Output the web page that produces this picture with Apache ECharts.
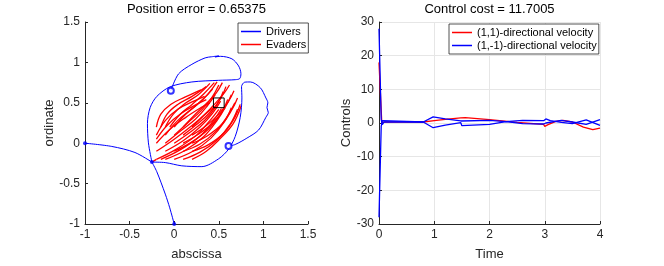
<!DOCTYPE html>
<html>
<head>
<meta charset="utf-8">
<script src="https://cdn.jsdelivr.net/npm/echarts@6/dist/echarts.min.js"></script>
<style>html,body{margin:0;padding:0;background:#fff}#c{width:664px;height:266px}</style>
</head>
<body>
<div id="c"></div>
<script>
// ---------- data: left panel ----------
const leftTitle = 'Position error = 0.65375';
const rightTitle = 'Control cost = 11.7005';
const posTicks = [-1, -0.5, 0, 0.5, 1, 1.5];
const ctrlTicks = [-30, -20, -10, 0, 10, 20, 30];
const timeTicks = [0, 1, 2, 3, 4];

const driver1 = [[-1,0],[-0.7,-0.04],[-0.44,-0.115],[-0.25,-0.234],[-0.289,0.004],[-0.3,0.242],[-0.27,0.44],[-0.195,0.579],[-0.046,0.698],[0.198,0.758],[0.497,0.778],[0.684,0.786],[0.735,0.80],[0.748,0.86],[0.722,0.956],[0.647,1.044],[0.52,1.075],[0.46,1.068],[0.5,1.08],[0.42,1.07],[0.347,1.056],[0.198,0.976],[0.048,0.857],[-0.038,0.65]];
const driver2 = [[0,-1],[-0.05,-0.8],[-0.10,-0.63],[-0.195,-0.353],[-0.25,-0.234],[-0.10,-0.24],[0.085,-0.28],[0.31,-0.29],[0.497,-0.194],[0.609,-0.075],[0.684,0.083],[0.74,0.32],[0.759,0.56],[0.755,0.70],[0.79,0.755],[0.853,0.758],[0.965,0.687],[1.028,0.56],[1.05,0.5],[1.04,0.44],[1.055,0.38],[1.028,0.321],[0.946,0.163],[0.815,0.063],[0.684,-0.016],[0.609,-0.036]];
const driverStarts = [[-1,0],[0,-1],[-0.25,-0.234]];
const driverEnds = [[-0.038,0.65],[0.609,-0.036]];
const targetBox = [[0.44,0.44],[0.56,0.44],[0.56,0.56],[0.44,0.56],[0.44,0.44]];

const evaders = [
  [[-0.2,0.2],[-0.15,0.36],[-0.04,0.48],[0.12,0.57],[0.3,0.66]],
  [[-0.15,0.2],[-0.08,0.36],[0.04,0.48],[0.2,0.58],[0.36,0.7]],
  [[-0.1,0.2],[-0.01,0.36],[0.12,0.49],[0.27,0.6],[0.4,0.74]],
  [[-0.05,0.2],[0.06,0.35],[0.2,0.48],[0.33,0.61],[0.45,0.75]],
  [[0,0.2],[0.12,0.35],[0.26,0.48],[0.38,0.61],[0.48,0.76]],
  [[0.1,0.2],[0.22,0.34],[0.35,0.48],[0.47,0.62],[0.54,0.75]],
  [[0.2,0.2],[0.32,0.33],[0.45,0.48],[0.56,0.62],[0.62,0.72]],
  [[-0.2,0.1],[-0.1,0.28],[0.04,0.42],[0.22,0.52],[0.34,0.58]],
  [[-0.1,0.1],[0.03,0.27],[0.18,0.41],[0.32,0.54],[0.43,0.67]],
  [[0,0.1],[0.15,0.25],[0.3,0.4],[0.42,0.56],[0.5,0.72]],
  [[0.1,0.1],[0.25,0.23],[0.4,0.38],[0.52,0.55],[0.58,0.7]],
  [[0.2,0.1],[0.35,0.21],[0.5,0.36],[0.61,0.52],[0.67,0.65]],
  [[-0.2,0.05],[-0.08,0.22],[0.08,0.37],[0.25,0.48],[0.36,0.54]],
  [[-0.2,0],[-0.05,0.17],[0.13,0.32],[0.3,0.44],[0.4,0.5]],
  [[-0.1,0],[0.07,0.15],[0.24,0.3],[0.37,0.46],[0.46,0.6]],
  [[0,0],[0.17,0.13],[0.34,0.28],[0.47,0.46],[0.55,0.64]],
  [[0.1,0],[0.27,0.11],[0.44,0.26],[0.57,0.44],[0.64,0.6]],
  [[0.2,0],[0.37,0.09],[0.54,0.24],[0.65,0.42],[0.71,0.56]],
  [[-0.2,-0.1],[0,0.05],[0.2,0.22],[0.35,0.36],[0.45,0.45]],
  [[-0.1,-0.1],[0.1,0.03],[0.29,0.2],[0.43,0.37],[0.52,0.52]],
  [[0,-0.1],[0.19,0.01],[0.38,0.17],[0.52,0.36],[0.6,0.54]],
  [[0.1,-0.1],[0.29,-0.01],[0.47,0.15],[0.6,0.34],[0.68,0.5]],
  [[0.2,-0.1],[0.38,-0.02],[0.56,0.13],[0.68,0.32],[0.74,0.48]],
  [[-0.2,-0.2],[0.03,-0.07],[0.25,0.1],[0.4,0.28],[0.5,0.42]],
  [[-0.15,-0.2],[0.07,-0.08],[0.29,0.09],[0.44,0.28],[0.53,0.43]],
  [[-0.1,-0.2],[0.12,-0.09],[0.33,0.08],[0.48,0.28],[0.57,0.44]],
  [[0,-0.2],[0.21,-0.1],[0.41,0.06],[0.56,0.26],[0.64,0.44]],
  [[0.1,-0.2],[0.29,-0.11],[0.48,0.04],[0.63,0.24],[0.71,0.42]],
  [[0.2,-0.2],[0.36,-0.1],[0.5,0.04],[0.66,0.24],[0.75,0.46]],
  [[-0.25,-0.234],[-0.2,-0.2]]
];

// ---------- data: right panel ----------
const vel11 = [[0,18],[0.05,0.2],[0.08,0.5],[0.12,0.3],[0.8,0.3],[1.0,0.7],[1.2,1.1],[1.48,1.5],[1.5,2.0],[1.56,1.6],[2.0,1.0],[2.5,0.2],[2.98,-0.4],[3.0,-1.0],[3.06,-0.5],[3.2,0.5],[3.33,0.8],[3.5,0.3],[3.7,-1.2],[3.87,-2.0],[4.0,-1.5]];
const velA = [[0,28],[0.04,1],[0.06,-0.5],[0.09,0.3],[0.8,0.3],[0.98,1.8],[1.2,1.2],[1.48,0.6],[1.5,1.1],[2.0,0.8],[2.3,0.4],[2.6,0.8],[2.98,0.7],[3.02,1.2],[3.1,0.7],[3.3,0.2],[3.5,-0.2],[3.75,0.9],[4.0,-0.7]];
const velB = [[0,-28],[0.04,-1],[0.06,0.7],[0.09,0.3],[0.8,0.3],[0.98,-1.4],[1.2,-0.6],[1.48,0.1],[1.5,-0.8],[2.0,-0.4],[2.3,0.4],[2.6,-0.2],[2.98,-0.3],[3.02,0.0],[3.3,0.8],[3.5,0.3],[3.75,-0.4],[4.0,1.0]];

const BLUE = '#0000ff', RED = '#ff0000', AX = '#262626';
const font = '"Liberation Sans", Arial, Helvetica, sans-serif';

function valAxis(opts) {
  return Object.assign({
    type: 'value',
    axisLine: { show: true, onZero: false, lineStyle: { color: AX, width: 1 } },
    axisTick: { show: true, inside: true, length: 3, lineStyle: { color: AX } },
    axisLabel: { color: AX, fontSize: 12, fontFamily: font, margin: 5 },
    splitLine: { show: false },
    nameLocation: 'middle',
    nameTextStyle: { color: AX, fontSize: 13, fontFamily: font }
  }, opts);
}

const series = [];
series.push({ name: 'Drivers', type: 'line', xAxisIndex: 0, yAxisIndex: 0, data: driver1, smooth: 0.3, symbol: 'none', lineStyle: { color: BLUE, width: 1 }, itemStyle: { color: BLUE }, z: 3 });
series.push({ name: 'Drivers', type: 'line', xAxisIndex: 0, yAxisIndex: 0, data: driver2, smooth: 0.3, symbol: 'none', lineStyle: { color: BLUE, width: 1 }, itemStyle: { color: BLUE }, z: 3 });
evaders.forEach(tr => series.push({ name: 'Evaders', type: 'line', xAxisIndex: 0, yAxisIndex: 0, data: tr, smooth: 0.4, symbol: 'none', lineStyle: { color: RED, width: 1.3 }, itemStyle: { color: RED }, z: 2 }));
series.push({ name: 'starts', type: 'scatter', xAxisIndex: 0, yAxisIndex: 0, data: driverStarts, symbol: 'circle', symbolSize: 4, itemStyle: { color: BLUE }, z: 4 });
series.push({ name: 'ends', type: 'scatter', xAxisIndex: 0, yAxisIndex: 0, data: driverEnds, symbol: 'emptyCircle', symbolSize: 6, itemStyle: { color: BLUE, borderWidth: 1 }, z: 4 });
series.push({ name: 'target', type: 'line', xAxisIndex: 0, yAxisIndex: 0, data: targetBox, symbol: 'none', lineStyle: { color: '#000', width: 1 }, z: 5 });

series.push({ name: '(1,1)-directional velocity', type: 'line', xAxisIndex: 1, yAxisIndex: 1, data: vel11, symbol: 'none', lineStyle: { color: RED, width: 1.3 }, itemStyle: { color: RED }, z: 2 });
series.push({ name: '(1,-1)-directional velocity', type: 'line', xAxisIndex: 1, yAxisIndex: 1, data: velA, symbol: 'none', lineStyle: { color: BLUE, width: 1.3 }, itemStyle: { color: BLUE }, z: 3 });
series.push({ name: '(1,-1)-directional velocity', type: 'line', xAxisIndex: 1, yAxisIndex: 1, data: velB, symbol: 'none', lineStyle: { color: BLUE, width: 1.3 }, itemStyle: { color: BLUE }, z: 3 });

const legendCommon = {
  orient: 'vertical', itemWidth: 20, itemHeight: 1.5, itemGap: 0, icon: 'rect',
  padding: [2, 2, 2, 3], borderColor: AX, borderWidth: 0.8, backgroundColor: '#fff',
  textStyle: { color: '#000', fontSize: 11, fontFamily: font, lineHeight: 13 },
  selectedMode: false
};

const option = {
  animation: false,
  backgroundColor: '#fff',
  title: [
    { text: leftTitle, left: 196.5, top: 3, textAlign: 'center', padding: 0, textStyle: { color: '#000', fontSize: 13, fontWeight: 'normal', fontFamily: font } },
    { text: rightTitle, left: 489.5, top: 3, textAlign: 'center', padding: 0, textStyle: { color: '#000', fontSize: 13, fontWeight: 'normal', fontFamily: font } }
  ],
  legend: [
    Object.assign({}, legendCommon, { data: [{ name: 'Drivers', itemStyle: { color: BLUE } }, { name: 'Evaders', itemStyle: { color: RED } }], left: 238, top: 23 }),
    Object.assign({}, legendCommon, { data: [{ name: '(1,1)-directional velocity', itemStyle: { color: RED } }, { name: '(1,-1)-directional velocity', itemStyle: { color: BLUE } }], left: 449, top: 24 })
  ],
  grid: [
    { left: 85, right: 356, top: 22, bottom: 37, containLabel: false },
    { left: 379, right: 64, top: 22, bottom: 37, containLabel: false }
  ],
  xAxis: [
    valAxis({ gridIndex: 0, min: posTicks[0], max: posTicks[posTicks.length - 1], interval: 0.5, name: 'abscissa', nameGap: 24 }),
    valAxis({ gridIndex: 1, min: timeTicks[0], max: timeTicks[timeTicks.length - 1], interval: 1, name: 'Time', nameGap: 24,
      splitLine: { show: true, lineStyle: { color: '#e6e6e6', width: 1 } } })
  ],
  yAxis: [
    valAxis({ gridIndex: 0, min: posTicks[0], max: posTicks[posTicks.length - 1], interval: 0.5, name: 'ordinate', nameGap: 23 }),
    valAxis({ gridIndex: 1, min: ctrlTicks[0], max: ctrlTicks[ctrlTicks.length - 1], interval: 10, name: 'Controls', nameGap: 23,
      splitLine: { show: true, lineStyle: { color: '#e6e6e6', width: 1 } } })
  ],
  series: series
};

const chart = echarts.init(document.getElementById('c'), null, { renderer: 'canvas' });
chart.setOption(option);
</script>
</body>
</html>
